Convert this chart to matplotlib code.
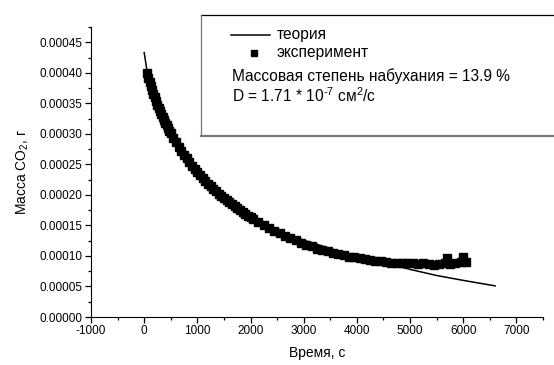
import matplotlib
matplotlib.use('Agg')
import matplotlib.pyplot as plt
from matplotlib.lines import Line2D
from matplotlib.ticker import MultipleLocator, FormatStrFormatter

plt.rcParams['font.family'] = ['Liberation Sans', 'DejaVu Sans']
plt.rcParams['mathtext.fontset'] = 'custom'
plt.rcParams['mathtext.rm'] = 'Liberation Sans'
plt.rcParams['mathtext.it'] = 'Liberation Sans'
plt.rcParams['axes.unicode_minus'] = False

# theory curve
t_theory = [0, 50, 100, 200, 300, 500, 750, 1000, 1500, 2000, 2500, 3000,
            3500, 4000, 4500, 5000, 5500, 6000, 6600]
m_theory = [0.000433, 0.000405, 0.000390, 0.000362, 0.000340, 0.000300,
            0.000262, 0.000232, 0.000192, 0.000164, 0.000143, 0.000126,
            0.000112, 0.000100, 0.000089, 0.000078, 0.000068, 0.000060,
            0.000051]

# experiment points
t_exp = [50, 75, 100, 125, 150, 175, 200, 225, 250, 275, 300, 325, 350, 375,
         400, 425, 450, 475, 500, 550, 600, 650, 700, 750, 800, 850, 900,
         950, 1000, 1050, 1100, 1150, 1200, 1250, 1300, 1350, 1400, 1450,
         1500, 1550, 1600, 1650, 1700, 1750, 1800, 1850, 1900, 1950, 2000,
         2050, 2150, 2250, 2350, 2450, 2550, 2650, 2750, 2850, 2950, 3050,
         3150, 3250, 3350, 3450, 3550, 3650, 3750, 3850, 3950, 4050, 4150,
         4250, 4350, 4450, 4550, 4650, 4750, 4850, 4950, 5050, 5150, 5250,
         5350, 5450, 5550, 5650, 5700, 5750, 5850, 5950, 6000, 6050]
m_exp = [0.000400, 0.000392, 0.000385, 0.000378, 0.000372, 0.000366,
         0.000360, 0.000354, 0.000348, 0.000343, 0.000338, 0.000333,
         0.000328, 0.000323, 0.000318, 0.000314, 0.000309, 0.000305,
         0.000301, 0.000293, 0.000286, 0.000279, 0.000272, 0.000266,
         0.000260, 0.000254, 0.000248, 0.000243, 0.000238, 0.000233,
         0.000228, 0.000223, 0.000218, 0.000214, 0.000210, 0.000206,
         0.000202, 0.000199, 0.000195, 0.000192, 0.000188, 0.000185,
         0.000182, 0.000179, 0.000175, 0.000172, 0.000169, 0.000166,
         0.000163, 0.000160, 0.000156, 0.000151, 0.000146, 0.000141,
         0.000137, 0.000133, 0.000130, 0.000126, 0.000122, 0.000118,
         0.000116, 0.000112, 0.000110, 0.000108, 0.000105, 0.000103,
         0.000101, 0.000099, 0.000098, 0.000096, 0.000095, 0.000093,
         0.000092, 0.000091, 0.000090, 0.000089, 0.000088, 0.000089,
         0.000088, 0.000089, 0.000087, 0.000088, 0.000086, 0.000085,
         0.000086, 0.000089, 0.000097, 0.000087, 0.000088, 0.000090,
         0.000099, 0.000090]

fig = plt.figure(figsize=(5.54, 3.65), dpi=100)
ax = fig.add_axes([0.1643, 0.1315, 0.8157, 0.7945])

ax.plot(t_exp, m_exp, 's', color='black', markersize=6.4, zorder=2)
ax.plot(t_theory, m_theory, '-', color='black', lw=1.1, zorder=3)

ax.set_xlim(-1000, 7500)
ax.set_ylim(0, 0.000475)
ax.xaxis.set_major_locator(MultipleLocator(1000))
ax.xaxis.set_minor_locator(MultipleLocator(500))
ax.yaxis.set_major_locator(MultipleLocator(0.00005))
ax.yaxis.set_minor_locator(MultipleLocator(0.000025))
ax.yaxis.set_major_formatter(FormatStrFormatter('%.5f'))
ax.tick_params(which='major', direction='out', length=4, width=0.9, labelsize=8.5, pad=2)
ax.tick_params(which='minor', direction='out', length=2.5, width=0.9)
ax.spines['top'].set_visible(False)
ax.spines['right'].set_visible(False)
ax.set_xlabel('Время, с', fontsize=10, labelpad=6)
ax.set_ylabel('Масса CO$_2$, г', fontsize=10, labelpad=6)

# info box
W, H = 554.0, 365.0
def fx(px):
    return px / W
def fy(py):
    return 1 - py / H

fig.add_artist(Line2D([fx(201), fx(560)], [fy(15), fy(15)], color='black', lw=0.9))
fig.add_artist(Line2D([fx(201), fx(201)], [fy(15), fy(136)], color='#777777', lw=0.9))
fig.add_artist(Line2D([fx(201), fx(560)], [fy(136), fy(136)], color='#777777', lw=1.6))

fig.add_artist(Line2D([fx(231), fx(270)], [fy(35), fy(35)], color='black', lw=1.1))
fig.add_artist(Line2D([fx(254)], [fy(53)], marker='s', color='black', markersize=4, lw=0))
fs = 11.2
fig.text(fx(277), fy(35), 'теория', fontsize=fs, va='center')
fig.text(fx(277), fy(53), 'эксперимент', fontsize=fs, va='center')
fig.text(fx(232), fy(76), 'Массовая степень набухания = 13.9 %', fontsize=fs, va='center')
fig.text(fx(232), fy(96), 'D = 1.71 * 10$^{\u2010 7}$ см$^2$/с', fontsize=fs, va='center')

fig.savefig('out.png', dpi=100)
